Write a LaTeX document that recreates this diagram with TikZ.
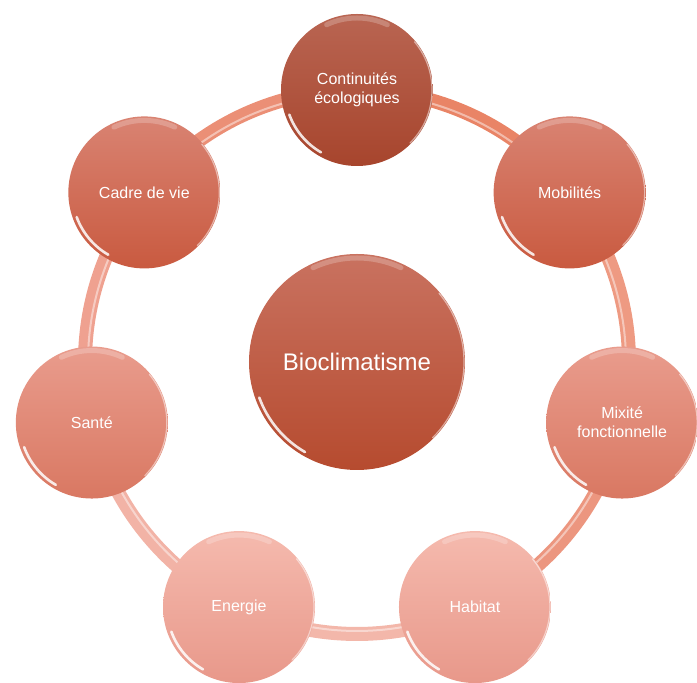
\documentclass[tikz,border=0pt]{standalone}
\usepackage{fontspec}
\setmainfont{Liberation Sans}

\definecolor{contH}{HTML}{B96552}\definecolor{contB}{HTML}{A7452D}
\definecolor{mobH}{HTML}{D98372}\definecolor{mobB}{HTML}{C95A40}
\definecolor{mixH}{HTML}{E99C8D}\definecolor{mixB}{HTML}{D97862}
\definecolor{habH}{HTML}{F5BAAE}\definecolor{habB}{HTML}{E8988A}
\definecolor{bioH}{HTML}{C97260}\definecolor{bioB}{HTML}{B64B2F}
\definecolor{anA}{HTML}{E98466}\definecolor{anB}{HTML}{EE9A82}
\definecolor{anC}{HTML}{EC967F}\definecolor{anD}{HTML}{F3B7AA}
\definecolor{anE}{HTML}{F2B3A6}\definecolor{anF}{HTML}{EFA190}
\definecolor{anG}{HTML}{EB8F76}

\begin{document}
\begin{tikzpicture}[
		x=0.5pt, y=0.5pt,
		bulle/.style={circle, minimum size=76pt, inner sep=0pt, align=center, text=white, font=\fontsize{8}{9.6}\selectfont},
		anneau/.style={line width=7pt},
		reflet/.style={white, line width=1.3pt, line cap=round, opacity=0.85},
	]
	\useasboundingbox (-357,-321) rectangle (340,362);

	\coordinate (c) at (0,0);
	\foreach \a/\n in {90/cont, 38.57/mob, -12.86/mix, -64.29/hab, -115.71/ene, -167.14/san, -218.57/cad}
		\coordinate (p\n) at (\a:272);

	% anneau
	\foreach \a/\n/\col in {90/cont/anA, 38.57/mob/anB, -12.86/mix/anC, -64.29/hab/anD, -115.71/ene/anE, -167.14/san/anF, -218.57/cad/anG}{
		\draw[anneau, \col] (p\n) arc[start angle=\a, end angle=\a-51.43, radius=136pt];
		\draw[white, line width=1pt, opacity=0.45] ([shift={(\a:-1.5pt)}]p\n) arc[start angle=\a, end angle=\a-51.43, radius=134.5pt];
	}

	% bulles
	\node[bulle, minimum size=108pt, font=\fontsize{12}{14}\selectfont, top color=bioH, bottom color=bioB] (bio) at (c) {Bioclimatisme};
	\foreach \n/\t/\h/\b in {cont/{Continuités\\écologiques}/contH/contB, mob/Mobilités/mobH/mobB, mix/{Mixité\\fonctionnelle}/mixH/mixB, hab/Habitat/habH/habB, ene/Energie/habH/habB, san/Santé/mixH/mixB, cad/Cadre de vie/mobH/mobB}
		\node[bulle, top color=\h, bottom color=\b] (\n) at (p\n) {\t};

	% reflets
	\foreach \n/\r in {cont/36, mob/36, mix/36, hab/36, ene/36, san/36, cad/36, bio/52}{
		\draw[reflet] ([shift={(200:\r pt)}]\n.center) arc[start angle=200, end angle=240, radius=\r pt];
		\draw[reflet, opacity=0.22, line width=2.5pt] ([shift={(65:\r pt)}]\n.center) arc[start angle=65, end angle=115, radius=\r pt];
		\draw[reflet, opacity=0.5, line width=0.6pt] ([shift={(-45:\r pt+1.5pt)}]\n.center) arc[start angle=-45, end angle=40, radius=\r pt+1.5pt];
	}

\end{tikzpicture}
\end{document}
